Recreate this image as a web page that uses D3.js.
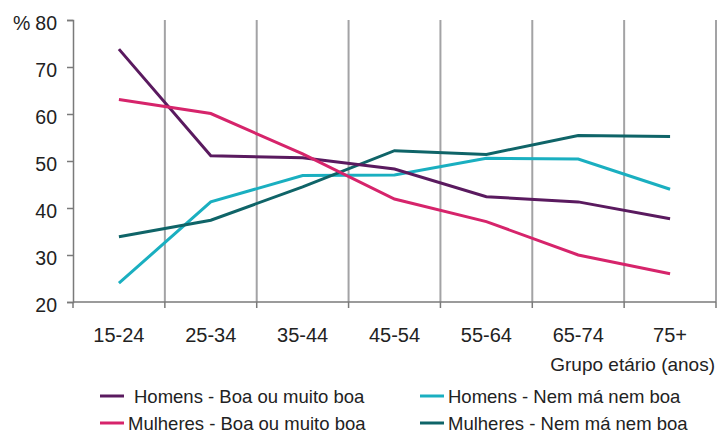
<!DOCTYPE html>
<html>
<head>
<meta charset="utf-8">
<script src="https://cdn.jsdelivr.net/npm/d3@7"></script>
<style>
  html, body { margin: 0; padding: 0; background: #fff; }
  svg { display: block; font-family: "Liberation Sans", Arial, sans-serif; }
</style>
</head>
<body>
<svg id="chart" width="719" height="434"></svg>
<script>
// Age groups (x axis) and y axis ticks
const ageGroups = ["15-24", "25-34", "35-44", "45-54", "55-64", "65-74", "75+"];
const yTicks = [20, 30, 40, 50, 60, 70, 80];

// Percentages per age group
const homensBoa = [73.8, 51.1, 50.7, 48.3, 42.4, 41.3, 37.7];
const homensNem = [24.0, 41.3, 46.9, 47.0, 50.6, 50.4, 44.0];
const mulheresBoa = [63.1, 60.1, 51.5, 41.9, 37.1, 30.0, 26.0];
const mulheresNem = [33.9, 37.4, 44.5, 52.2, 51.4, 55.4, 55.2];

const seriesNames = [
  "Homens - Boa ou muito boa",
  "Homens - Nem má nem boa",
  "Mulheres - Boa ou muito boa",
  "Mulheres - Nem má nem boa"
];
const seriesColors = ["#5a1a5f", "#1aafc0", "#d6246b", "#0f6468"];
const seriesValues = [homensBoa, homensNem, mulheresBoa, mulheresNem];

const svg = d3.select("#chart");
const m = { left: 73, right: 716, top: 20, bottom: 302 };

const x = d3.scaleBand().domain(ageGroups).range([m.left, m.right]);
const y = d3.scaleLinear().domain([20, 80]).range([m.bottom, m.top]);

// Vertical separators between age groups
const bounds = ageGroups.map(g => x(g)).concat([m.right]).slice(1);
svg.append("g").selectAll("line").data(bounds).join("line")
  .attr("x1", d => d).attr("x2", d => d)
  .attr("y1", m.top).attr("y2", m.bottom)
  .attr("stroke", "#a3a3a5").attr("stroke-width", 2);

// Y axis
const yAxis = svg.append("g").attr("transform", `translate(${m.left},0)`)
  .call(d3.axisLeft(y).tickValues(yTicks).tickSize(6).tickPadding(10).tickFormat(d3.format("d")));
yAxis.select(".domain").attr("stroke", "#7a7a7a").attr("stroke-width", 1.5);
yAxis.selectAll(".tick line").attr("stroke", "#7a7a7a").attr("stroke-width", 1.5);
yAxis.selectAll(".tick text").attr("font-size", 19.5).attr("fill", "#222")
  .attr("font-family", "Liberation Sans, Arial, sans-serif")
  .attr("dy", "0.5em");
svg.append("text").attr("x", 13).attr("y", y(80)).attr("dy", "0.5em")
  .attr("font-size", 19.5).attr("fill", "#222").text("%");

// X axis: ticks at group boundaries, labels at group centres
const xAxisG = svg.append("g").attr("transform", `translate(0,${m.bottom})`);
xAxisG.append("line").attr("x1", m.left).attr("x2", m.right)
  .attr("stroke", "#7a7a7a").attr("stroke-width", 1.5);
xAxisG.selectAll("line.tk").data(ageGroups.map(g => x(g)).concat([m.right])).join("line")
  .attr("class", "tk")
  .attr("x1", d => d).attr("x2", d => d).attr("y1", 0).attr("y2", 6)
  .attr("stroke", "#7a7a7a").attr("stroke-width", 1.5);
xAxisG.selectAll("text").data(ageGroups).join("text")
  .attr("x", d => x(d) + x.bandwidth() / 2).attr("y", 40)
  .attr("text-anchor", "middle").attr("font-size", 20).attr("fill", "#222")
  .text(d => d);

svg.append("text").attr("x", 715).attr("y", 371).attr("text-anchor", "end")
  .attr("font-size", 19).attr("fill", "#222").text("Grupo etário (anos)");

// Series lines
const line = d3.line()
  .x((d, i) => x(ageGroups[i]) + x.bandwidth() / 2)
  .y(d => y(d));

const order = [1, 3, 0, 2];
order.forEach(k => {
  svg.append("path").datum(seriesValues[k])
    .attr("d", line).attr("fill", "none")
    .attr("stroke", seriesColors[k]).attr("stroke-width", 3);
});

// Legend
const legendPos = [
  { sx: 100, tx: 134, y: 396 },
  { sx: 420, tx: 448, y: 396 },
  { sx: 100, tx: 128, y: 423 },
  { sx: 420, tx: 448, y: 423 }
];
const lg = svg.append("g");
seriesNames.forEach((name, k) => {
  const p = legendPos[k];
  lg.append("line").attr("x1", p.sx).attr("x2", p.sx + 24)
    .attr("y1", p.y).attr("y2", p.y)
    .attr("stroke", seriesColors[k]).attr("stroke-width", 3);
  lg.append("text").attr("x", p.tx).attr("y", p.y).attr("dy", "0.36em")
    .attr("font-size", 18.5).attr("fill", "#222").text(name);
});
</script>
</body>
</html>
